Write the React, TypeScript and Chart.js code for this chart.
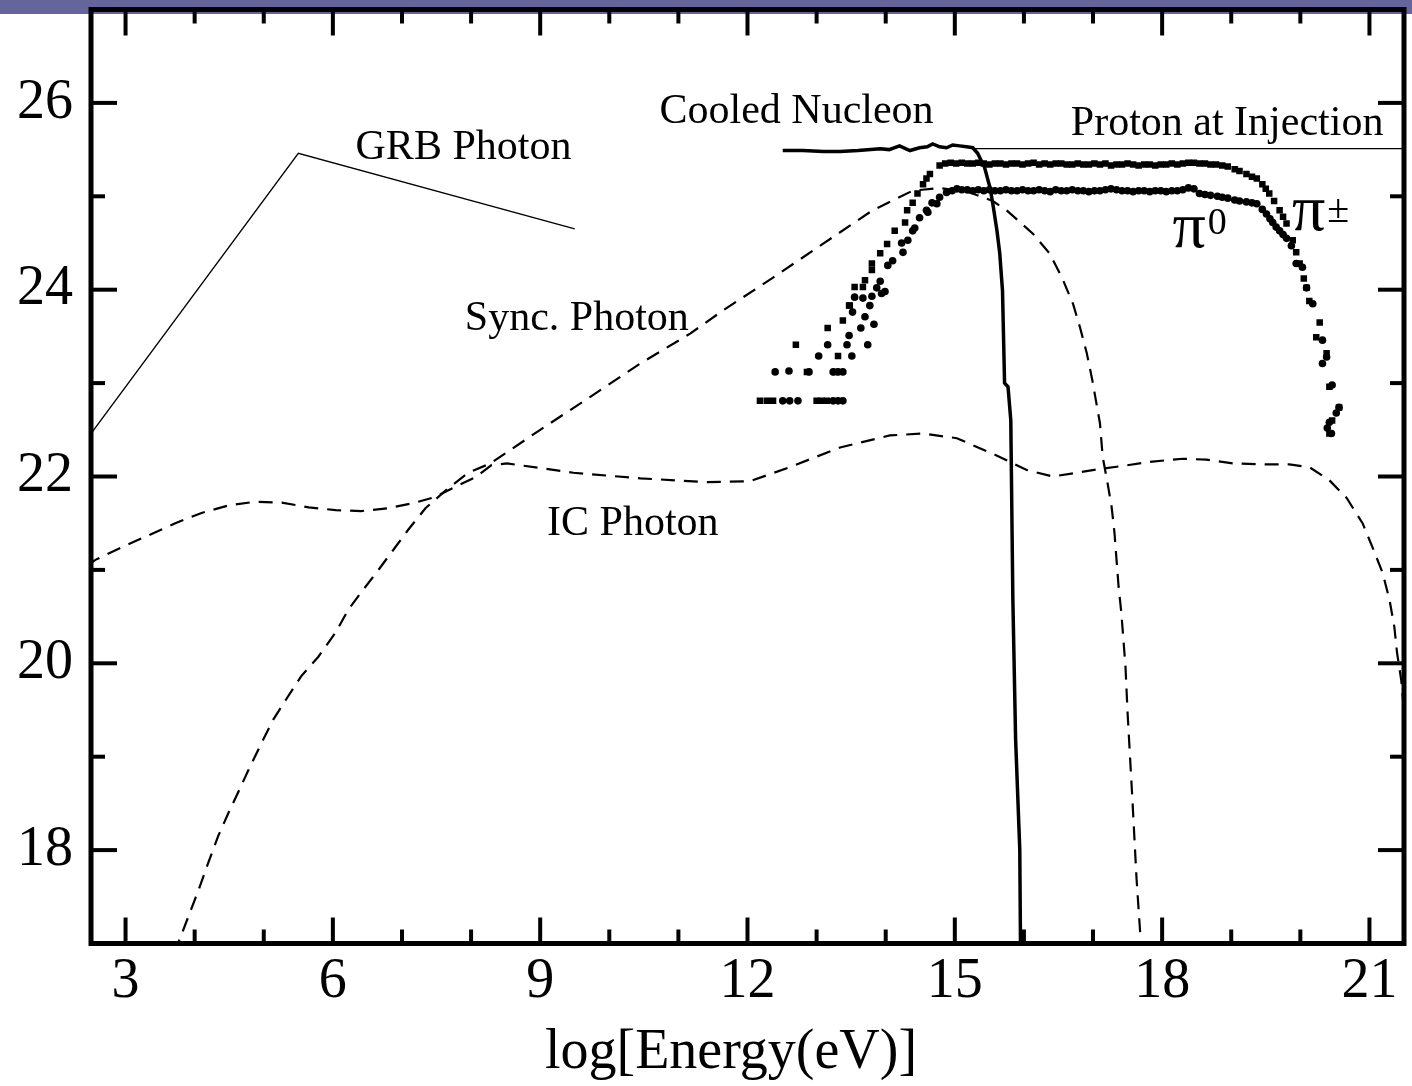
import React, { useEffect, useRef } from 'react';
import { Chart, registerables } from 'chart.js';

Chart.register(...registerables);

const W = 1412;
const H = 1086;

// ---------- tick values ----------
const xMajorTicks = [3, 6, 9, 12, 15, 18, 21];
const xMinorTicks = [4, 5, 7, 8, 10, 11, 13, 14, 16, 17, 19, 20];
const yMajorTicks = [18, 20, 22, 24, 26];
const yMinorTicks = [19, 21, 23, 25];
const xTitle = 'log[Energy(eV)]';

// ---------- GRB photon (thin solid) ----------
const grbX = [2.4, 5.5, 9.5];
const grbY = [22.36, 25.46, 24.65];

// ---------- Proton at injection (thin solid) ----------
const protonX = [15.26, 21.6];
const protonY = [25.51, 25.51];

// ---------- Cooled nucleon (thick solid) ----------
const nucleonX = [12.51, 12.8, 13.1, 13.34, 13.6, 13.92, 14.05, 14.2, 14.35, 14.49, 14.6, 14.68, 14.78, 14.88, 14.97, 15.07, 15.17, 15.26, 15.33, 15.43, 15.51, 15.55, 15.61, 15.65, 15.69, 15.72, 15.77, 15.81, 15.84, 15.88, 15.94, 15.95, 15.96];
const nucleonY = [25.49, 25.49, 25.48, 25.48, 25.49, 25.51, 25.5, 25.54, 25.49, 25.52, 25.53, 25.56, 25.53, 25.52, 25.55, 25.54, 25.53, 25.52, 25.46, 25.31, 25.09, 24.92, 24.63, 24.39, 23.99, 23.0, 22.96, 22.6, 20.68, 19.18, 18.01, 17.03, 16.8];

// ---------- Synchrotron photon (dashed) ----------
const syncX = [3.71, 3.77, 3.91, 4.06, 4.2, 4.34, 4.49, 4.63, 4.78, 4.97, 5.14, 5.32, 5.54, 5.79, 6.04, 6.22, 6.41, 6.66, 6.9, 7.09, 7.34, 7.63, 7.96, 8.28, 9.0, 9.72, 10.45, 11.17, 11.65, 12.37, 13.09, 13.81, 14.39, 14.78, 15.22, 15.55, 15.75, 16.13, 16.37, 16.55, 16.71, 16.81, 16.91, 16.99, 17.1, 17.14, 17.21, 17.27, 17.31, 17.34, 17.37, 17.41, 17.44, 17.47, 17.5, 17.57, 17.63, 17.69, 17.7];
const syncY = [16.9, 17.02, 17.29, 17.58, 17.87, 18.15, 18.4, 18.62, 18.86, 19.15, 19.4, 19.61, 19.86, 20.07, 20.33, 20.57, 20.76, 21.0, 21.24, 21.43, 21.66, 21.85, 22.04, 22.14, 22.5, 22.85, 23.21, 23.53, 23.78, 24.13, 24.49, 24.85, 25.06, 25.09, 25.04, 24.95, 24.85, 24.6, 24.39, 24.13, 23.85, 23.6, 23.32, 23.03, 22.57, 22.21, 21.93, 21.67, 21.4, 21.11, 20.82, 20.54, 20.25, 19.96, 19.47, 18.54, 17.69, 17.03, 16.9];

// ---------- Inverse-Compton photon (dashed) ----------
const icX = [2.45, 2.57, 2.94, 3.33, 3.72, 4.1, 4.49, 4.88, 5.26, 5.65, 6.04, 6.41, 6.8, 7.19, 7.48, 7.77, 8.06, 8.29, 8.52, 9.01, 9.48, 10.45, 11.41, 12.04, 12.61, 13.34, 14.06, 14.54, 15.03, 15.65, 16.04, 16.42, 16.76, 17.1, 17.49, 17.86, 18.3, 18.64, 19.02, 19.51, 19.84, 20.13, 20.42, 20.67, 20.9, 21.04, 21.19, 21.29, 21.36, 21.4, 21.46, 21.5];
const icY = [21.05, 21.11, 21.24, 21.37, 21.5, 21.61, 21.69, 21.73, 21.72, 21.67, 21.64, 21.63, 21.66, 21.72, 21.78, 21.89, 21.99, 22.12, 22.14, 22.09, 22.04, 21.98, 21.94, 21.95, 22.1, 22.31, 22.44, 22.46, 22.41, 22.21, 22.07, 22.0, 22.04, 22.08, 22.12, 22.16, 22.19, 22.18, 22.14, 22.13, 22.13, 22.1, 21.96, 21.77, 21.5, 21.25, 20.97, 20.68, 20.39, 20.11, 19.82, 19.5];

// ---------- Charged pion (squares) ----------
const piChargedX = [
  12.18, 12.28, 12.37, 13.0, 13.07, 13.15, 12.86, 13.27, 12.7, 13.31, 13.16, 13.38, 13.48, 13.47, 13.55, 13.67, 13.7, 13.8, 13.8, 13.92, 14.02, 14.13, 14.28, 14.31, 14.39, 14.46, 14.54, 14.59, 14.64, 14.78,
  14.86, 14.94, 15.02, 15.1, 15.18, 15.26, 15.34, 15.42, 15.5, 15.58, 15.66, 15.74, 15.82, 15.9, 15.98, 16.06, 16.14, 16.22, 16.3, 16.38, 16.46, 16.54, 16.62, 16.7, 16.78, 16.86, 16.94, 17.02, 17.1, 17.18, 17.26, 17.34, 17.42, 17.5, 17.58, 17.66, 17.74, 17.82, 17.9, 17.98, 18.06, 18.14, 18.22, 18.3, 18.38, 18.46, 18.54, 18.62, 18.7, 18.78,
  18.87, 18.95, 19.05, 19.12, 19.22, 19.3, 19.37, 19.45, 19.5, 19.55, 19.62, 19.7, 19.75, 19.8, 19.89, 19.94, 19.99, 20.05, 20.09, 20.13, 20.23, 20.28, 20.38, 20.42, 20.56, 20.46, 20.42
];
const piChargedY = [
  22.81, 22.81, 22.81, 22.81, 22.81, 22.81, 23.12, 23.12, 23.41, 23.29, 23.59, 23.67, 23.83, 23.83, 24.03, 24.03, 24.1, 24.21, 24.28, 24.39, 24.49, 24.63, 24.72, 24.85, 24.93, 25.03, 25.13, 25.19, 25.24, 25.33,
  25.35, 25.36, 25.35, 25.36, 25.35, 25.35, 25.36, 25.35, 25.34, 25.35, 25.35, 25.34, 25.35, 25.35, 25.34, 25.35, 25.36, 25.34, 25.35, 25.34, 25.35, 25.35, 25.34, 25.34, 25.35, 25.34, 25.34, 25.35, 25.34, 25.35, 25.33, 25.34, 25.34, 25.35, 25.34, 25.33, 25.34, 25.34, 25.33, 25.34, 25.34, 25.35, 25.34, 25.35, 25.36, 25.36, 25.35, 25.35, 25.34, 25.34,
  25.33, 25.32, 25.29, 25.27, 25.24, 25.21, 25.19, 25.13, 25.08, 25.03, 24.95, 24.85, 24.78, 24.71, 24.53, 24.4, 24.28, 24.12, 24.02, 23.88, 23.49, 23.65, 23.32, 22.96, 22.74, 22.6, 22.46
];

// ---------- Neutral pion (circles) ----------
const piNeutralX = [
  12.51, 12.61, 12.73, 13.24, 13.31, 13.38, 12.4, 12.6, 12.89, 13.24, 13.31, 13.38, 13.03, 13.51, 13.16, 13.44, 13.74, 13.47, 13.64, 13.83, 13.52, 13.7, 13.77, 13.55, 13.67, 13.8, 13.94, 13.99, 13.87, 13.92, 14.03, 14.1, 14.25, 14.23, 14.32, 14.42, 14.49, 14.61, 14.74, 14.39, 14.59, 14.67, 14.78, 14.88, 14.96, 15.03,
  15.1, 15.18, 15.26, 15.34, 15.42, 15.5, 15.58, 15.66, 15.74, 15.82, 15.9, 15.98, 16.06, 16.14, 16.22, 16.3, 16.38, 16.46, 16.54, 16.62, 16.7, 16.78, 16.86, 16.94, 17.02, 17.1, 17.18, 17.26, 17.34, 17.42, 17.5, 17.58, 17.66, 17.74, 17.82, 17.9, 17.98, 18.06, 18.14, 18.22, 18.3, 18.38, 18.46,
  18.54, 18.62, 18.7, 18.8, 18.87, 18.95, 19.05, 19.12, 19.22, 19.3, 19.37, 19.45, 19.51, 19.56, 19.6, 19.65, 19.7, 19.75, 19.8, 19.87, 19.94, 20.03, 20.09, 20.18, 20.32, 20.38, 20.32, 20.46, 20.56, 20.52, 20.42, 20.45, 20.39
];
const piNeutralY = [
  22.81, 22.81, 22.81, 22.81, 22.81, 22.81, 23.12, 23.13, 23.12, 23.12, 23.12, 23.12, 23.29, 23.29, 23.41, 23.41, 23.41, 23.51, 23.59, 23.63, 23.76, 23.71, 23.83, 23.92, 23.91, 23.93, 23.96, 23.98, 24.02, 24.09, 24.26, 24.31, 24.4, 24.5, 24.53, 24.66, 24.77, 24.83, 24.92, 24.63, 24.85, 24.93, 24.99, 25.04, 25.06, 25.08,
  25.07, 25.07, 25.06, 25.07, 25.06, 25.07, 25.06, 25.06, 25.07, 25.06, 25.06, 25.07, 25.06, 25.06, 25.07, 25.06, 25.05, 25.07, 25.06, 25.06, 25.07, 25.06, 25.06, 25.05, 25.06, 25.06, 25.07, 25.08, 25.07, 25.06, 25.06, 25.05, 25.06, 25.06, 25.05, 25.06, 25.06, 25.05, 25.06, 25.06, 25.07, 25.09, 25.08,
  25.03, 25.02, 25.01, 25.0, 24.99, 24.98, 24.96, 24.95, 24.94, 24.93, 24.92, 24.86, 24.81, 24.76, 24.72, 24.67, 24.63, 24.59, 24.55, 24.47, 24.28, 24.24, 24.02, 23.85, 23.46, 23.28, 23.21, 22.98, 22.74, 22.68, 22.58, 22.46, 22.52
];

// ---------- text annotations (data coordinates of text anchor) ----------
const textLabels = [
  { text: 'GRB Photon', x: 7.89, y: 25.4 },
  { text: 'Cooled Nucleon', x: 12.71, y: 25.78 },
  { text: 'Proton at Injection', x: 18.94, y: 25.66 },
  { text: 'Sync. Photon', x: 9.53, y: 23.57 },
  { text: 'IC Photon', x: 10.34, y: 21.37 },
];
const pionLabels = [
  { base: 'π', sup: '0', x: 18.15, y: 24.46 },
  { base: 'π', sup: '±', x: 19.88, y: 24.64 },
];

const SERIF = '"Liberation Serif", "Times New Roman", serif';

const pts = (xs: number[], ys: number[]) => xs.map((x, i) => ({ x, y: ys[i] }));

const framePlugin = {
  id: 'frame',
  beforeDraw(chart: any) {
    const ctx = chart.ctx;
    ctx.save();
    ctx.fillStyle = '#ffffff';
    ctx.fillRect(0, 0, W, H);
    ctx.fillStyle = '#65659b';
    ctx.fillRect(0, 0, W, 14);
    ctx.restore();
  },
  afterDraw(chart: any) {
    const { ctx, chartArea: a, scales } = chart;
    const xs = scales.x;
    const ys = scales.y;
    ctx.save();
    ctx.strokeStyle = '#000';
    ctx.lineCap = 'butt';
    ctx.lineWidth = 4;
    const seg = (x1: number, y1: number, x2: number, y2: number) => {
      ctx.beginPath();
      ctx.moveTo(x1, y1);
      ctx.lineTo(x2, y2);
      ctx.stroke();
    };
    const MAJ = 26;
    const MIN = 14;
    xMajorTicks.forEach((v) => {
      const p = xs.getPixelForValue(v);
      seg(p, a.bottom, p, a.bottom - MAJ);
      seg(p, a.top, p, a.top + MAJ);
    });
    xMinorTicks.forEach((v) => {
      const p = xs.getPixelForValue(v);
      seg(p, a.bottom, p, a.bottom - MIN);
      seg(p, a.top, p, a.top + MIN);
    });
    yMajorTicks.forEach((v) => {
      const p = ys.getPixelForValue(v);
      seg(a.left, p, a.left + MAJ, p);
      seg(a.right, p, a.right - MAJ, p);
    });
    yMinorTicks.forEach((v) => {
      const p = ys.getPixelForValue(v);
      seg(a.left, p, a.left + MIN, p);
      seg(a.right, p, a.right - MIN, p);
    });
    ctx.lineWidth = 5;
    ctx.lineJoin = 'miter';
    ctx.strokeRect(a.left, a.top, a.right - a.left, a.bottom - a.top);

    // axis title
    ctx.fillStyle = '#000';
    ctx.textAlign = 'center';
    ctx.textBaseline = 'middle';
    ctx.font = `56px ${SERIF}`;
    ctx.fillText(xTitle, 731, 1053);

    // annotations
    ctx.textBaseline = 'alphabetic';
    ctx.font = `42px ${SERIF}`;
    textLabels.forEach((t) => {
      ctx.fillText(t.text, xs.getPixelForValue(t.x), ys.getPixelForValue(t.y));
    });
    ctx.textAlign = 'left';
    pionLabels.forEach((t) => {
      const px = xs.getPixelForValue(t.x);
      const py = ys.getPixelForValue(t.y);
      ctx.font = `66px ${SERIF}`;
      ctx.fillText(t.base, px, py);
      const w = ctx.measureText(t.base).width;
      ctx.font = `${t.sup === '0' ? 38 : 40}px ${SERIF}`;
      ctx.fillText(t.sup, px + w + 2, py - (t.sup === '0' ? 13 : 8));
    });
    ctx.restore();
  },
};

export default function App() {
  const canvasRef = useRef<HTMLCanvasElement | null>(null);

  useEffect(() => {
    document.body.style.margin = '0';
    const canvas = canvasRef.current;
    if (!canvas) return;
    const tickFont = { family: SERIF, size: 56 };
    const lineDs = (data: any[], width: number, dash: number[] = []) => ({
      data,
      showLine: true,
      borderColor: '#000',
      backgroundColor: '#000',
      borderWidth: width,
      borderDash: dash,
      pointRadius: 0,
      pointHoverRadius: 0,
      tension: 0,
    });
    const chart = new Chart(canvas, {
      type: 'scatter',
      data: {
        datasets: [
          { label: 'GRB Photon', ...lineDs(pts(grbX, grbY), 1.3) },
          { label: 'Proton at Injection', ...lineDs(pts(protonX, protonY), 1.3) },
          { label: 'Cooled Nucleon', ...lineDs(pts(nucleonX, nucleonY), 3.5) },
          { label: 'Sync. Photon', ...lineDs(pts(syncX, syncY), 2.2, [14, 9]) },
          { label: 'IC Photon', ...lineDs(pts(icX, icY), 2.2, [14, 9]) },
          {
            label: 'pi charged',
            data: pts(piChargedX, piChargedY),
            showLine: false,
            pointStyle: 'rect',
            pointRadius: 4.6,
            pointBorderWidth: 0,
            pointBackgroundColor: '#000',
            borderColor: '#000',
          },
          {
            label: 'pi0',
            data: pts(piNeutralX, piNeutralY),
            showLine: false,
            pointStyle: 'circle',
            pointRadius: 3.8,
            pointBorderWidth: 0,
            pointBackgroundColor: '#000',
            borderColor: '#000',
          },
        ],
      },
      options: {
        responsive: false,
        animation: false,
        events: [],
        layout: { padding: { top: 9.5, right: 8, left: 0, bottom: 0 } },
        plugins: { legend: { display: false }, tooltip: { enabled: false } },
        scales: {
          x: {
            type: 'linear',
            min: 2.5,
            max: 21.5,
            afterBuildTicks: (s: any) => {
              s.ticks = xMajorTicks.map((v) => ({ value: v }));
            },
            afterFit: (s: any) => {
              s.height = 142.5;
              s.paddingLeft = 0;
              s.paddingRight = 0;
            },
            grid: { display: false, drawTicks: false },
            border: { display: false },
            ticks: { font: tickFont, color: '#000', padding: 5, maxRotation: 0, autoSkip: false },
          },
          y: {
            type: 'linear',
            min: 17,
            max: 27,
            afterBuildTicks: (s: any) => {
              s.ticks = yMajorTicks.map((v) => ({ value: v }));
            },
            afterFit: (s: any) => {
              s.width = 91;
              s.paddingTop = 0;
              s.paddingBottom = 0;
            },
            grid: { display: false, drawTicks: false },
            border: { display: false },
            ticks: { font: tickFont, color: '#000', padding: 18, autoSkip: false },
          },
        },
      },
      plugins: [framePlugin],
    } as any);
    return () => chart.destroy();
  }, []);

  return (
    <div style={{ position: 'absolute', left: 0, top: 0, width: W, height: H }}>
      <canvas ref={canvasRef} width={W} height={H} style={{ display: 'block' }} />
    </div>
  );
}
